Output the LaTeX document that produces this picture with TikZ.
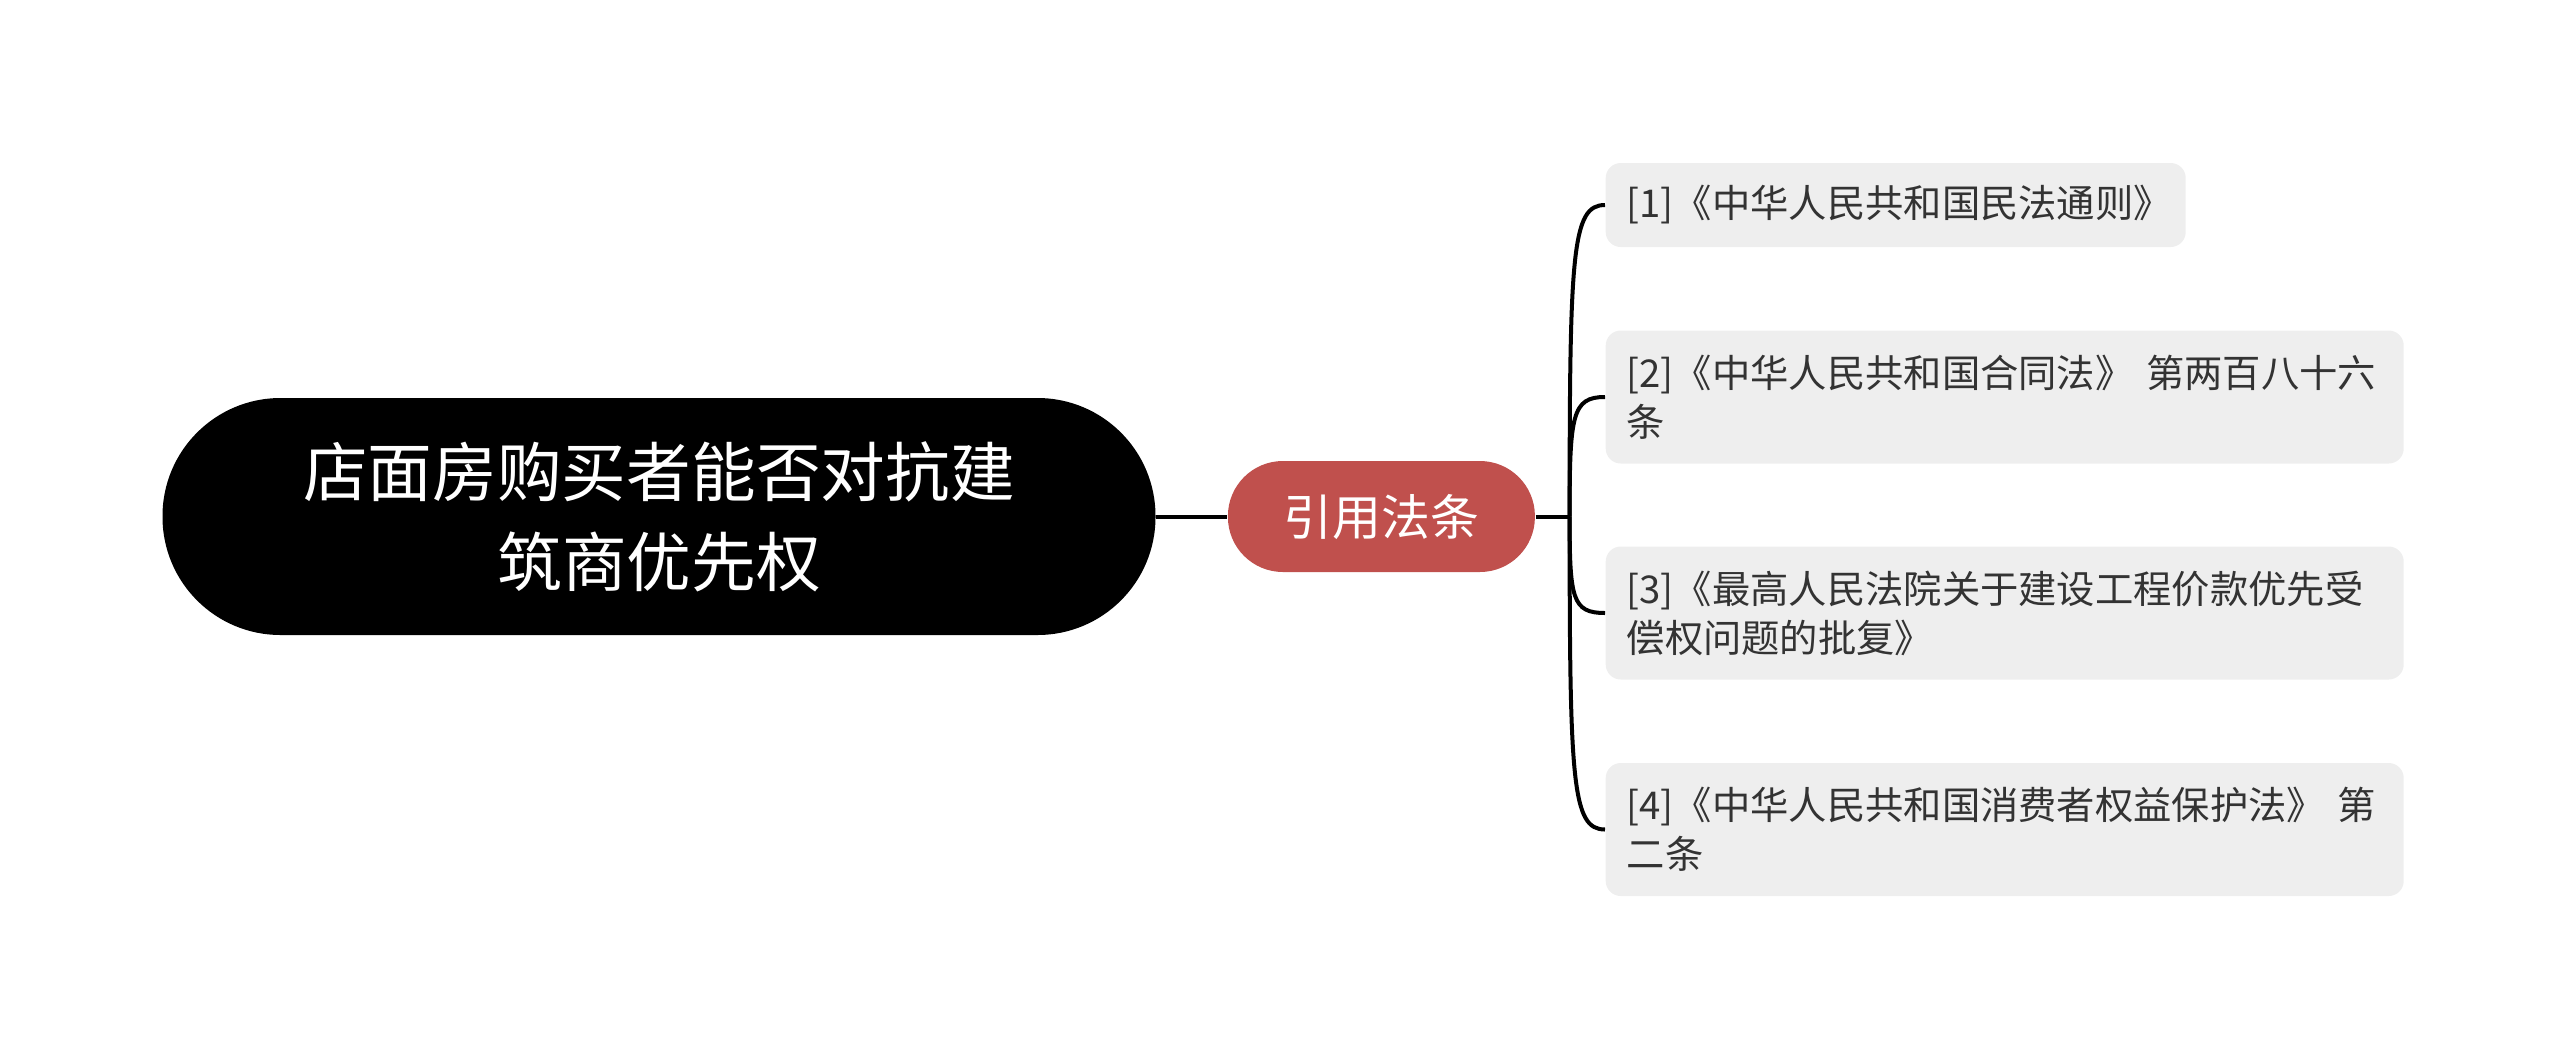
\documentclass[tikz,border=0pt]{standalone}
\usepackage{fontspec}
\setmainfont{Noto Sans CJK SC}
\usepackage{tikz}
\usetikzlibrary{positioning,calc}
\usepackage{xcolor}
\definecolor{brick}{HTML}{C0504D}
\definecolor{leafgray}{HTML}{EEEEEE}
\definecolor{inkgray}{HTML}{333333}

\begin{document}
\begin{tikzpicture}[
        rootbox/.style={fill=black, text=white, rounded corners=1.18cm, minimum width=9.93cm, minimum height=2.37cm, align=center, font=\fontsize{18.4}{25.6}\selectfont},
        citebox/.style={fill=brick, text=white, rounded corners=0.55cm, minimum width=3.07cm, minimum height=1.11cm, font=\fontsize{13.9}{16}\selectfont},
        leafbox/.style={fill=leafgray, text=inkgray, rounded corners=0.15cm, anchor=west, inner xsep=0.21cm, align=left, text width=7.56cm, minimum height=1.33cm, font=\fontsize{10.9}{13.9}\selectfont},
        link/.style={line width=0.04cm, color=black}
    ]
        \useasboundingbox (0,0) rectangle (25.6,-10.59);

        \node[rootbox] (root) at (6.59,-5.165) {店面房购买者能否对抗建\\筑商优先权};
        \node[citebox, right=0.71cm of root] (cite) {引用法条};
        \coordinate[right=0.34cm of cite] (fork);

        \node[leafbox, text width=5.38cm, minimum height=0.84cm] (l1) at (16.05,-2.05) {[1]《中华人民共和国民法通则》};
        \node[leafbox] (l2) at (16.05,-3.97) {[2]《中华人民共和国合同法》 第两百八十六\\条};
        \node[leafbox] (l3) at (16.05,-6.13) {[3]《最高人民法院关于建设工程价款优先受\\偿权问题的批复》};
        \node[leafbox] (l4) at (16.05,-8.295) {[4]《中华人民共和国消费者权益保护法》 第\\二条};

        \draw[link] (root.east) -- (cite.west);
        \draw[link] (cite.east) -- (fork);
        \foreach \leaf in {l1,l2,l3,l4}
            \draw[link] (fork) .. controls ($(fork)!0.85!(fork |- \leaf.west)$) and ($(\leaf.west)+(-0.33,0)$) .. (\leaf.west);
    \end{tikzpicture}
\end{document}
